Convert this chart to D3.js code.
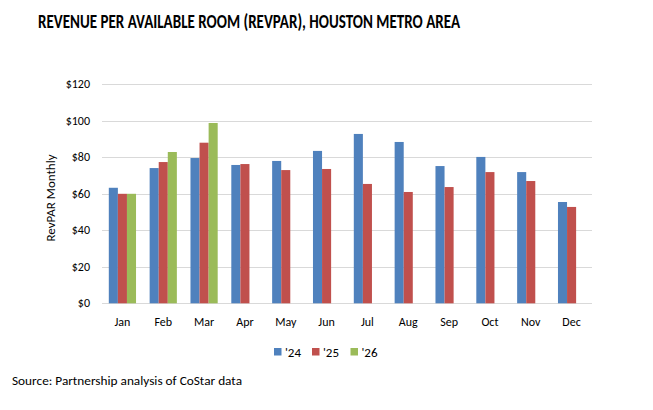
<!DOCTYPE html>
<html>
<head>
<meta charset="utf-8">
<script src="https://cdn.jsdelivr.net/npm/d3@7"></script>
<style>
  body { margin: 0; background: #fff; }
  text { font-family: Calibri, Carlito, Lato, "Open Sans", sans-serif; fill: #000; }
</style>
</head>
<body>
<div id="chart"></div>
<script>
// data
var months = ["Jan", "Feb", "Mar", "Apr", "May", "Jun", "Jul", "Aug", "Sep", "Oct", "Nov", "Dec"];
var seriesNames = ["'24", "'25", "'26"];
var rev24 = [63.3, 74.1, 79.6, 75.8, 78.0, 83.5, 92.8, 88.4, 75.2, 80.2, 71.9, 55.5];
var rev25 = [60.0, 77.4, 88.0, 76.3, 73.0, 73.6, 65.4, 61.0, 63.7, 71.9, 67.0, 52.8];
var rev26 = [60.0, 82.9, 98.8, null, null, null, null, null, null, null, null, null];
var yTicks = [0, 20, 40, 60, 80, 100, 120];

var colors = ["#4F81BD", "#C0504D", "#9BBB59"];
var allSeries = [rev24, rev25, rev26];

var width = 653, height = 410;
var margin = {top: 84.3, right: 61, bottom: 106.7, left: 102};

var svg = d3.select("#chart")
  .append("svg")
    .attr("width", width)
    .attr("height", height);

var x = d3.scaleBand()
    .domain(months)
    .range([margin.left, width - margin.right])
    .padding(0);

var xInner = d3.scaleBand()
    .domain(seriesNames)
    .range([0, x.bandwidth()])
    .paddingInner(0)
    .paddingOuter(0.75);

var y = d3.scaleLinear()
    .domain([0, 120])
    .range([height - margin.bottom, margin.top]);

// gridlines
svg.append("g")
  .selectAll("line")
  .data(yTicks)
  .enter()
  .append("line")
    .attr("x1", margin.left)
    .attr("x2", width - margin.right)
    .attr("y1", function(d) { return Math.round(y(d)) + 0.5; })
    .attr("y2", function(d) { return Math.round(y(d)) + 0.5; })
    .attr("stroke", "#D9D9D9")
    .attr("stroke-width", 1);

// y tick labels
svg.append("g")
  .selectAll("text")
  .data(yTicks)
  .enter()
  .append("text")
    .attr("x", 90)
    .attr("y", function(d) { return y(d) + 4; })
    .attr("text-anchor", "end")
    .attr("font-size", "12px")
    .text(function(d) { return "$" + d; });

// x tick labels
svg.append("g")
  .selectAll("text")
  .data(months)
  .enter()
  .append("text")
    .attr("x", function(d) { return x(d) + x.bandwidth() / 2; })
    .attr("y", 326)
    .attr("text-anchor", "middle")
    .attr("font-size", "12px")
    .text(function(d) { return d; });

// bars
var rows = [];
allSeries.forEach(function(vals, si) {
  vals.forEach(function(v, mi) {
    if (v !== null) rows.push({month: months[mi], series: seriesNames[si], value: v, color: colors[si]});
  });
});

svg.append("g")
  .selectAll("rect")
  .data(rows)
  .enter()
  .append("rect")
    .attr("x", function(d) { return x(d.month) + xInner(d.series); })
    .attr("width", xInner.bandwidth())
    .attr("y", function(d) { return y(d.value); })
    .attr("height", function(d) { return y(0) - y(d.value); })
    .attr("fill", function(d) { return d.color; });

// axis title
svg.append("text")
    .attr("transform", "translate(55,198) rotate(-90)")
    .attr("text-anchor", "middle")
    .attr("font-size", "13px")
    .text("RevPAR Monthly");

// title
svg.append("text")
    .attr("x", 38)
    .attr("y", 28)
    .attr("font-size", "20px")
    .attr("font-weight", "bold")
    .attr("textLength", 422)
    .attr("lengthAdjust", "spacingAndGlyphs")
    .text("REVENUE PER AVAILABLE ROOM (REVPAR), HOUSTON METRO AREA");

// legend
var legendX = [274, 312, 350.5];
var legend = svg.append("g")
  .selectAll("g")
  .data(seriesNames)
  .enter()
  .append("g")
    .attr("transform", function(d, i) { return "translate(" + legendX[i] + ",348)"; });

legend.append("rect")
    .attr("width", 7.5)
    .attr("height", 7.5)
    .attr("fill", function(d, i) { return colors[i]; });

legend.append("text")
    .attr("x", 11)
    .attr("y", 8.5)
    .attr("font-size", "13px")
    .text(function(d) { return d; });

// source
svg.append("text")
    .attr("x", 12)
    .attr("y", 385)
    .attr("font-size", "13px")
    .attr("textLength", 230)
    .attr("lengthAdjust", "spacingAndGlyphs")
    .text("Source: Partnership analysis of CoStar data");
</script>
</body>
</html>
